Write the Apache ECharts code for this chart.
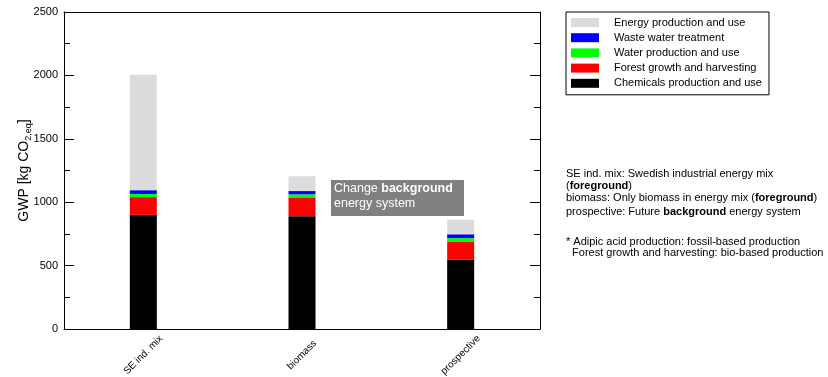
<!DOCTYPE html>
<html>
<head>
<meta charset="utf-8">
<script src="https://cdn.jsdelivr.net/npm/echarts@6/dist/echarts.min.js"></script>
<style>
html,body{margin:0;padding:0;background:#fff;}
#chart{width:828px;height:377px;}
</style>
</head>
<body>
<div id="chart"></div>
<script>
var categories = ['SE ind. mix', 'biomass', 'prospective'];
var chemicals = [900, 890, 545];
var forest = [140, 148, 145];
var water = [25, 24, 27];
var wastewater = [30, 26, 30];
var energy = [910, 117, 115];
var yTicks = [0, 500, 1000, 1500, 2000, 2500];

var seriesNames = ['Chemicals production and use', 'Forest growth and harvesting', 'Water production and use', 'Waste water treatment', 'Energy production and use'];
var seriesData = [chemicals, forest, water, wastewater, energy];
var seriesColors = ['#000000', '#ff0000', '#00ff00', '#0000ff', '#dcdcdc'];

var FONT = 'Liberation Sans, Arial, sans-serif';
var chart = echarts.init(document.getElementById('chart'), null, {renderer: 'canvas'});

var series = seriesNames.map(function (n, i) {
  return {
    name: n, type: 'bar', stack: 'total', barWidth: 27,
    data: seriesData[i], itemStyle: {color: seriesColors[i]},
    emphasis: {disabled: true}, animation: false
  };
});

var yBase = {
  type: 'value', min: yTicks[0], max: yTicks[yTicks.length - 1], interval: 500,
  axisLine: {show: true, lineStyle: {color: '#000', width: 1}},
  axisTick: {show: true, inside: true, length: 10, lineStyle: {color: '#000'}},
  minorTick: {show: true, splitNumber: 2, length: 6, lineStyle: {color: '#000'}},
  splitLine: {show: false}
};

var option = {
  animation: false,
  textStyle: {fontFamily: FONT},
  grid: {left: 64, right: 288, top: 12, bottom: 48, containLabel: false, outerBoundsMode: 'none'},
  legend: {
    orient: 'vertical', left: 566, top: 12,
    itemWidth: 28, itemHeight: 9, itemGap: 0.2,
    borderColor: '#000', borderWidth: 1, padding: [3, 7, 4, 5],
    icon: 'rect', selectedMode: false,
    textStyle: {fontSize: 11, lineHeight: 15, color: '#000', fontFamily: FONT, padding: [0, 0, 0, 10]},
    data: ['Energy production and use', 'Waste water treatment', 'Water production and use', 'Forest growth and harvesting', 'Chemicals production and use']
  },
  xAxis: [{
    type: 'category', data: categories, position: 'bottom',
    axisLine: {show: true, lineStyle: {color: '#000', width: 1}},
    axisTick: {show: false},
    axisLabel: {rotate: 45, align: 'center', verticalAlign: 'middle', margin: 26, fontSize: 10, color: '#000', fontFamily: FONT}
  }, {
    type: 'category', data: categories, position: 'top',
    axisLine: {show: true, onZero: false, lineStyle: {color: '#000', width: 1}},
    axisTick: {show: false}, axisLabel: {show: false}
  }],
  yAxis: [
    Object.assign({}, yBase, {
      position: 'left',
      name: '{n|GWP [kg CO}{s|2,eq}{n|]}',
      nameLocation: 'middle', nameGap: 33, nameRotate: 90, nameMoveOverlap: false,
      nameTextStyle: {
        fontFamily: FONT, color: '#000',
        rich: {
          n: {fontSize: 14, lineHeight: 14, verticalAlign: 'top', fontFamily: FONT, color: '#000'},
          s: {fontSize: 9, lineHeight: 9, verticalAlign: 'top', padding: [7, 0, 0, 0], fontFamily: FONT, color: '#000'}
        }
      },
      axisLabel: {fontSize: 11, color: '#000', margin: 6, fontFamily: FONT, formatter: function (v) { return String(v); }}
    }),
    Object.assign({}, yBase, {position: 'right', axisLabel: {show: false}})
  ],
  series: series,
  graphic: [
    {type: 'rect', left: 331, top: 180, shape: {width: 133, height: 36}, style: {fill: '#808080'}, silent: true},
    {type: 'text', left: 334, top: 182, silent: true, style: {
      text: '{n|Change }{b|background}\n{n|energy system}',
      rich: {
        n: {fontSize: 12.5, lineHeight: 15.5, fill: '#fff', fontFamily: FONT},
        b: {fontSize: 12.5, lineHeight: 15.5, fill: '#fff', fontWeight: 'bold', fontFamily: FONT}
      }
    }},
    {type: 'text', left: 566, top: 168, silent: true, style: {
      text: '{n|SE ind. mix: Swedish industrial energy mix}\n{n|(}{b|foreground}{n|)}\n{p|biomass: Only biomass in energy mix (}{pb|foreground}{p|)}\n{p|prospective: Future }{pb|background}{p| energy system}',
      rich: {
        n: {fontSize: 11, lineHeight: 12, fill: '#000', fontFamily: FONT},
        b: {fontSize: 11, lineHeight: 12, fill: '#000', fontWeight: 'bold', fontFamily: FONT},
        p: {fontSize: 11, lineHeight: 13.5, fill: '#000', fontFamily: FONT},
        pb: {fontSize: 11, lineHeight: 13.5, fill: '#000', fontWeight: 'bold', fontFamily: FONT}
      }
    }},
    {type: 'text', left: 566, top: 236, silent: true, style: {
      text: '* Adipic acid production: fossil-based production\n  Forest growth and harvesting: bio-based production',
      fontSize: 11, lineHeight: 11.5, fill: '#000', fontFamily: FONT
    }}
  ]
};
chart.setOption(option);
</script>
</body>
</html>
